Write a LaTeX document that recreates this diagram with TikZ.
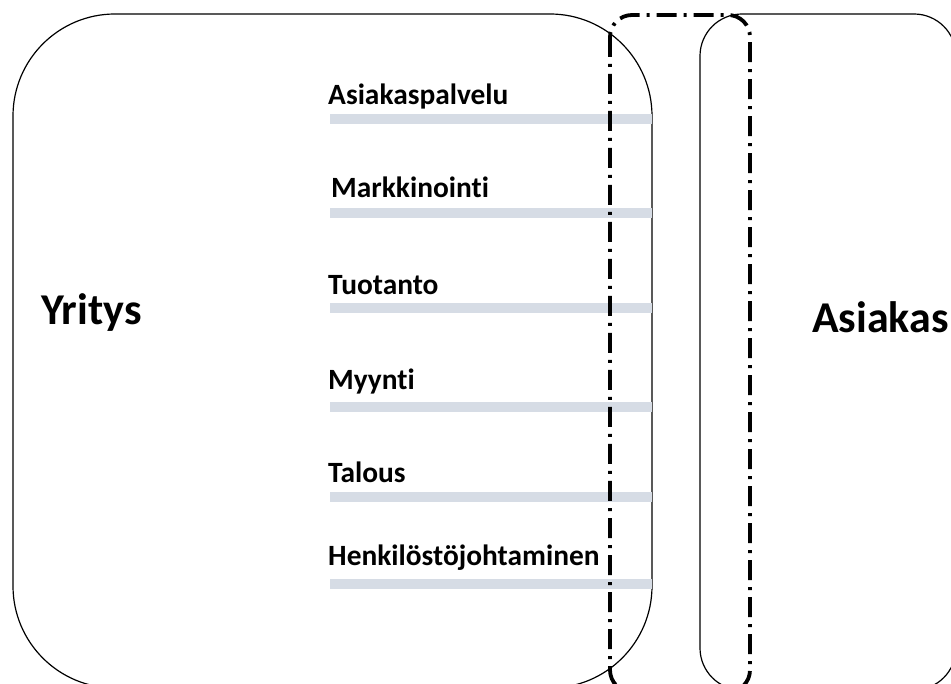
\documentclass[tikz,border=0pt]{standalone}
\usepackage{fontspec}
\setmainfont{Carlito}[Ligatures=NoCommon]
\begin{document}
\begin{tikzpicture}[x=1pt,y=-1pt,
  frame/.style={draw=black, line width=1.2pt},
  zone/.style={draw=black, line width=3.8pt,
    dash pattern=on 20pt off 7pt on 3pt off 7pt},
  bar/.style={draw=barfill, line width=10pt},
  func/.style={anchor=base west, inner sep=0pt, font=\bfseries\fontsize{29.4}{31}\selectfont},
  party/.style={anchor=base west, inner sep=0pt, font=\bfseries\fontsize{44}{46}\selectfont}]
\definecolor{barfill}{RGB}{214,220,229}
\useasboundingbox (0,0) rectangle (951,684);
\clip (0,0) rectangle (951,684);

% company and customer outlines
\draw[frame, rounded corners=102pt] (13,14) rectangle (652,688);
\draw[frame, rounded corners=42pt] (700,14) rectangle (956,690);

% function bars
\foreach \y/\n in {119/a,213/b,308/c,407/d,497/e,584/f}{
  \coordinate (s\n) at (330,\y);
  \coordinate (t\n) at (652,\y);
  \draw[bar] (s\n) -- (t\n);
}

% function labels
\node[func] (l1) at (328,105) {Asiakaspalvelu};
\node[func] (l2) at (331,198) {Markkinointi};
\node[func] (l3) at (328,295) {Tuotanto};
\node[func] (l4) at (328,390) {Myynti};
\node[func] (l5) at (328,483) {Talous};
\node[func] (l6) at (328,565) {Henkilöstöjohtaminen};

\node[party] (yritys) at (41,325) {Yritys};
\node[party] (asiakas) at (812,333) {Asiakas};

% customer interface zone
\draw[zone, rounded corners=22pt] (610,15) rectangle (750,692);
\end{tikzpicture}
\end{document}
